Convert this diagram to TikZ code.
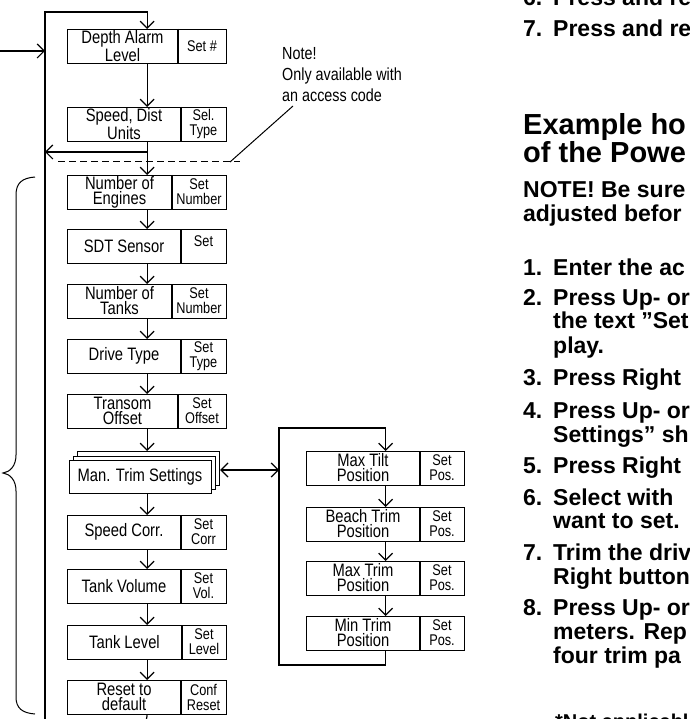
\documentclass[tikz,border=0pt]{standalone}
\usepackage{fontspec}
\setmainfont{Liberation Sans}
\newfontfamily\narrowfont[FakeStretch=0.82]{Liberation Sans}
\usetikzlibrary{arrows.meta}

\tikzset{
 boxframe/.style={draw, line width=1.2pt, minimum height=34pt, inner sep=0pt, anchor=north west},
 boxline/.style={line width=1.2pt},
 lefttxt/.style={font=\narrowfont\fontsize{18pt}{15pt}\selectfont, align=center, inner sep=0pt},
 righttxt/.style={font=\narrowfont\fontsize{15.5pt}{15pt}\selectfont, align=center, inner sep=0pt},
 conn/.style={line width=1.2pt},
 arr/.style={conn, -{Straight Barb[length=7pt,width=14pt]}},
 darr/.style={conn, {Straight Barb[length=7pt,width=14pt]}-{Straight Barb[length=7pt,width=14pt]}},
 notetxt/.style={font=\narrowfont\fontsize{17.5pt}{21pt}\selectfont, align=left, inner sep=0pt, anchor=north west},
 bodytxt/.style={font=\bfseries\fontsize{23pt}{24pt}\selectfont, anchor=base west, inner sep=0pt},
 headtxt/.style={font=\bfseries\fontsize{29pt}{29pt}\selectfont, anchor=base west, inner sep=0pt},
 foottxt/.style={font=\bfseries\fontsize{20pt}{20pt}\selectfont, anchor=base west, inner sep=0pt},
}

\newcommand\flowrow[7]{%
  \node[boxframe, minimum width={#5-#2}] (#1) at (#2,#3) {};
  \draw[boxline] (#1.north -| #4,0) -- (#1.south -| #4,0);
  \node[lefttxt] (#1L) at ({(#2+#4)/2},{#3+17}) {#6};
  \node[righttxt] (#1R) at ({(#4+#5)/2},{#3+17}) {#7};
}

\begin{document}
\begin{tikzpicture}[x=1pt,y=-1pt]
\useasboundingbox (0,0) rectangle (689,719);
\clip (0,0) rectangle (689,719);

% main column
\flowrow{depth}{67}{29}{178}{226}{Depth Alarm\\Level}{Set \#}
\flowrow{speed}{67}{107}{181}{226}{Speed, Dist\\Units}{Sel.\\Type}
\flowrow{engines}{67}{175}{172}{226}{Number of\\Engines}{Set\\Number}
\flowrow{sdt}{67}{229}{181}{226}{SDT Sensor}{\raisebox{-0.5pt}[0pt][0pt]{Set}}
\flowrow{tanks}{67}{284}{172}{226}{Number of\\Tanks}{Set\\Number}
\flowrow{drive}{67}{339}{181}{226}{Drive Type}{Set\\Type}
\flowrow{transom}{67}{394}{178}{226}{Transom\\Offset}{Set\\Offset}
\flowrow{scorr}{67}{515}{181}{226}{Speed Corr.}{Set\\Corr}
\flowrow{tvol}{67}{569}{181}{226}{Tank Volume}{Set\\Vol.}
\flowrow{tlev}{67}{625}{182}{226}{Tank Level}{Set\\Level}
\flowrow{reset}{67}{680}{181}{226}{Reset to\\default}{Conf\\Reset}

% stacked Man. Trim Settings
\node[boxframe, fill=white, minimum width=142pt, minimum height=34pt] (mtsb) at (77,451) {};
\node[boxframe, fill=white, minimum width=142pt, minimum height=33pt] (mtsm) at (73,456) {};
\node[boxframe, fill=white, minimum width=142pt, minimum height=33pt] (mts) at (69,460) {};
\node[lefttxt] (mtsL) at (140,477) {Man. Trim Settings};

% sub column
\flowrow{maxtilt}{306}{451}{420}{464}{Max Tilt\\Position}{Set\\Pos.}
\flowrow{beach}{306}{507}{420}{464}{Beach Trim\\Position}{Set\\Pos.}
\flowrow{maxtrim}{306}{561}{420}{464}{Max Trim\\Position}{Set\\Pos.}
\flowrow{mintrim}{306}{616}{420}{464}{Min Trim\\Position}{Set\\Pos.}

% connectors
\foreach \a/\b in {depth/speed, speed/engines, engines/sdt, sdt/tanks, tanks/drive,
  drive/transom, scorr/tvol, tvol/tlev, tlev/reset, maxtilt/beach, beach/maxtrim, maxtrim/mintrim}
  \draw[arr] (\a.south) -- (\b.north);
\draw[arr] (transom.south) -- (transom.south |- mtsb.north);
\draw[arr] (mts.south -| scorr.north) -- (scorr.north);
\coordinate (rb) at (146.5,719);
\draw[conn] (reset.south) -- (rb);

% left loop
\coordinate (lbot) at (45,719);
\coordinate (ltop) at (45,12);
\draw[arr] (lbot) -- (ltop) -| (depth.north);
\coordinate (inl) at (0,51);
\draw[arr] (inl) -- (inl -| ltop);
\coordinate (brl) at (45,152);
\draw[arr] (speed.south |- brl) -- (brl);

% dashed line and note
\coordinate (da) at (58,162);
\coordinate (db) at (240,162);
\draw[line width=1pt, dash pattern=on 7pt off 4pt] (da) -- (db);
\node[notetxt] (note) at (282,47.5) {Note!\\Only available with\\an access code};
\coordinate (nl1) at (230,162);
\coordinate (nl2) at (293,106);
\draw[line width=1pt] (nl1) -- (nl2);

% sub loop
\coordinate (sb) at (279,665);
\coordinate (st) at (279,428);
\draw[arr] (mintrim.south) |- (sb) -- (st) -| (maxtilt.north);
\coordinate (sm) at (279,470);
\draw[darr] (mtsb.east |- sm) -- (sm);

% brace
\draw[line width=1pt] (35,177) .. controls (22,178) and (16,183) .. (16,195) -- (16,455)
  .. controls (16,466) and (10,472) .. (3,473) .. controls (10,474) and (16,480) .. (16,491)
  -- (16,697) .. controls (16,708) and (22,713) .. (35,714);

% right text
\node[bodytxt] (n6) at (523,6) {6.};
\node[bodytxt] (s6) at (553,6) {Press and re};
\node[bodytxt] (n7) at (523,37) {7.};
\node[bodytxt] (s7) at (553,37) {Press and re};
\node[headtxt] (h1) at (523,135) {Example ho};
\node[headtxt] (h2) at (523,163) {of the Powe};
\node[bodytxt] (nt1) at (523,197) {NOTE! Be sure};
\node[bodytxt] (nt2) at (523,222) {adjusted befor};
\node[bodytxt] (i1n) at (523,275) {1.};
\node[bodytxt] (i1a) at (553,275) {Enter the ac};
\node[bodytxt] (i2n) at (523,305) {2.};
\node[bodytxt] (i2a) at (553,305) {Press Up- or};
\node[bodytxt] (i2b) at (553,328) {the text ”Set};
\node[bodytxt] (i2c) at (553,353) {play.};
\node[bodytxt] (i3n) at (523,385) {3.};
\node[bodytxt] (i3a) at (553,385) {Press Right};
\node[bodytxt] (i4n) at (523,418) {4.};
\node[bodytxt] (i4a) at (553,418) {Press Up- or};
\node[bodytxt] (i4b) at (553,442) {Settings” sh};
\node[bodytxt] (i5n) at (523,473) {5.};
\node[bodytxt] (i5a) at (553,473) {Press Right};
\node[bodytxt] (i6n) at (523,505) {6.};
\node[bodytxt] (i6a) at (553,505) {Select with};
\node[bodytxt] (i6b) at (553,528) {want to set.};
\node[bodytxt] (i7n) at (523,560) {7.};
\node[bodytxt] (i7a) at (553,560) {Trim the driv};
\node[bodytxt] (i7b) at (553,584) {Right button};
\node[bodytxt] (i8n) at (523,615) {8.};
\node[bodytxt] (i8a) at (553,615) {Press Up- or};
\node[bodytxt] (i8b) at (553,639) {meters. Rep};
\node[bodytxt] (i8c) at (553,663) {four trim pa};
\node[foottxt] (foot) at (555,728) {*Not applicabl};
\end{tikzpicture}
\end{document}
